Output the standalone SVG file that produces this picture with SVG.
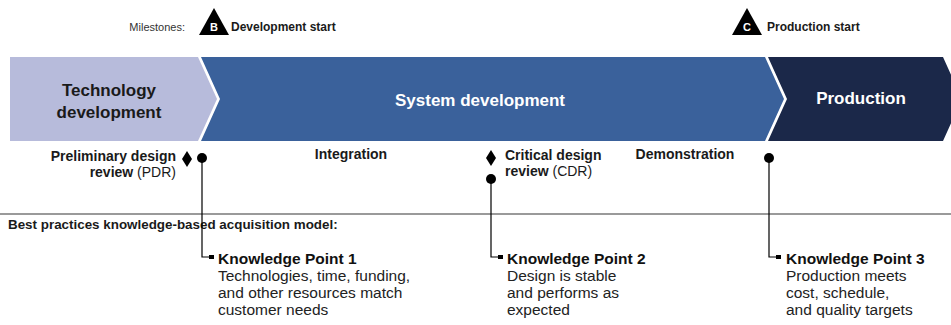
<svg xmlns="http://www.w3.org/2000/svg" width="951" height="325" viewBox="0 0 951 325">
<style>
text{font-family:"Liberation Sans",Arial,sans-serif;}
.s{font-size:14px;fill:#1a1a1a;}
.m{font-size:12px;fill:#1a1a1a;}
.b{font-weight:bold;}
.ph{font-size:17px;font-weight:bold;}
.kt{font-size:15.5px;font-weight:bold;fill:#111;}
.kd{font-size:15.5px;fill:#222;}
.lead{fill:none;stroke:#000;stroke-width:1.2;}
</style>
<rect width="951" height="325" fill="#fff"/>
<g id="milestones">
<text x="185" y="31" text-anchor="end" font-size="11" fill="#333">Milestones:</text>
<g id="msB">
<polygon points="214,8 199,35 229,35" fill="#000"/>
<text x="214" y="31" text-anchor="middle" font-size="11" font-weight="bold" fill="#fff">B</text>
<text class="m b" x="231" y="31">Development start</text>
</g>
<g id="msC">
<polygon points="747,8 732,35 762,35" fill="#000"/>
<text x="747" y="31" text-anchor="middle" font-size="11" font-weight="bold" fill="#fff">C</text>
<text class="m b" x="767" y="31">Production start</text>
</g>
</g>
<g id="phase-tech">
<polygon points="10,57 198,57 217,99 198,141 10,141" fill="#b7bbdb"/>
<text class="ph" x="109" y="96" text-anchor="middle" fill="#1a1a1a">Technology</text>
<text class="ph" x="109" y="118" text-anchor="middle" fill="#1a1a1a">development</text>
</g>
<g id="phase-system">
<polygon points="201,57 765,57 784,99 765,141 201,141 220,99" fill="#3a619b"/>
<text class="ph" x="480" y="106" text-anchor="middle" fill="#fff">System development</text>
</g>
<g id="phase-production">
<polygon points="768,57 943,57 962,99 943,141 768,141 787,99" fill="#1b2849"/>
<text class="ph" x="861" y="104" text-anchor="middle" fill="#fff">Production</text>
</g>
<g id="reviews">
<g id="pdr">
<text class="s b" x="176" y="161" text-anchor="end">Preliminary design</text>
<text class="s" x="176" y="177" text-anchor="end"><tspan font-weight="bold">review</tspan> (PDR)</text>
<polygon points="187,151 192,159 187,167 182,159" fill="#000"/>
</g>
<text id="integration" class="s b" x="351" y="159" text-anchor="middle">Integration</text>
<g id="cdr">
<polygon points="491,150 496,158 491,166 486,158" fill="#000"/>
<text class="s b" x="505" y="160">Critical design</text>
<text class="s" x="505" y="176"><tspan font-weight="bold">review</tspan> (CDR)</text>
</g>
<text id="demonstration" class="s b" x="685" y="159" text-anchor="middle">Demonstration</text>
</g>
<line x1="0" y1="214" x2="951" y2="214" stroke="#9a9a9a" stroke-width="2"/>
<text x="8" y="229" font-size="13.4" font-weight="bold" fill="#1a1a1a">Best practices knowledge-based acquisition model:</text>
<g id="connectors">
<polyline class="lead" points="202,158 202,257 210,257"/>
<polyline class="lead" points="491,179 491,257 499,257"/>
<polyline class="lead" points="769,158 769,257 777,257"/>
<circle cx="202" cy="158" r="5" fill="#000"/>
<circle cx="491" cy="179" r="5" fill="#000"/>
<circle cx="769" cy="158" r="5" fill="#000"/>
<rect x="209" y="255" width="5" height="4" fill="#000"/>
<rect x="498" y="255" width="5" height="4" fill="#000"/>
<rect x="776" y="255" width="5" height="4" fill="#000"/>
</g>
<g id="kp1">
<text class="kt" x="218" y="264">Knowledge Point 1</text>
<text class="kd" x="218" y="281">Technologies, time, funding,</text>
<text class="kd" x="218" y="298">and other resources match</text>
<text class="kd" x="218" y="315">customer needs</text>
</g>
<g id="kp2">
<text class="kt" x="507" y="264">Knowledge Point 2</text>
<text class="kd" x="507" y="281">Design is stable</text>
<text class="kd" x="507" y="298">and performs as</text>
<text class="kd" x="507" y="315">expected</text>
</g>
<g id="kp3">
<text class="kt" x="786" y="264">Knowledge Point 3</text>
<text class="kd" x="786" y="281">Production meets</text>
<text class="kd" x="786" y="298">cost, schedule,</text>
<text class="kd" x="786" y="315">and quality targets</text>
</g>
</svg>
